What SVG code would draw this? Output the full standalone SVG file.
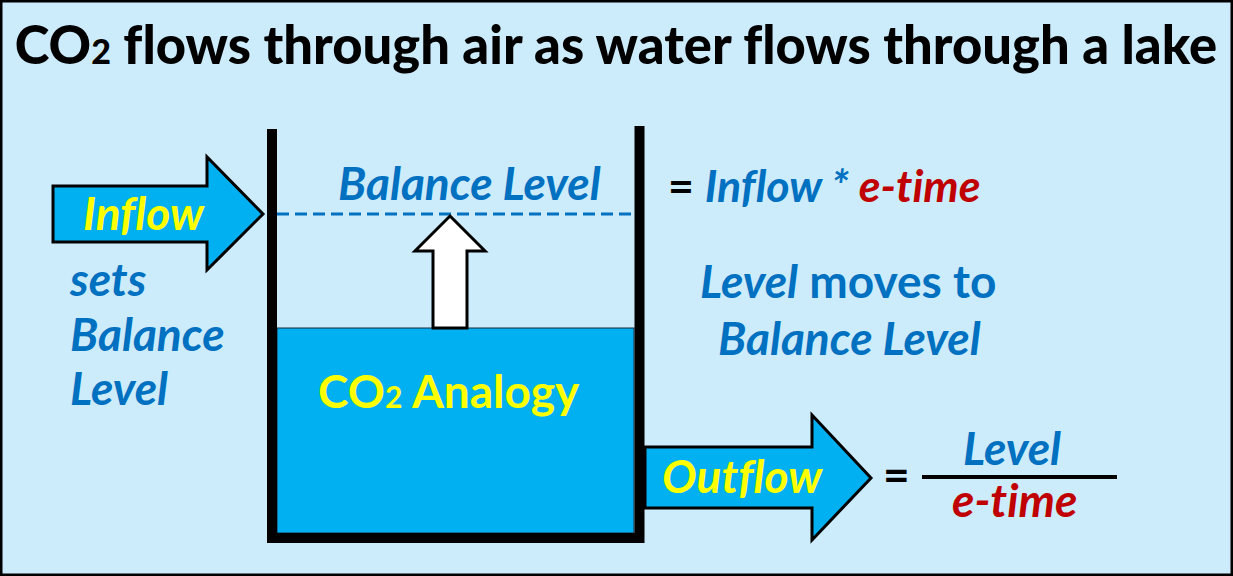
<svg xmlns="http://www.w3.org/2000/svg" width="1233" height="576" viewBox="0 0 1233 576">
<style>
text{font-family:Lato,"Liberation Sans",sans-serif;font-variant-ligatures:none;}
.t{font-size:52.5px;font-weight:900;fill:#000;}
.lbl{font-size:46px;font-weight:700;}
.it{font-style:italic;}
.blue{fill:#0070C0;}
.red{fill:#C00000;}
.yel{fill:#FFFF00;}
.blk{fill:#000;}
.flow{fill:#00B0F0;stroke:#000;stroke-width:3;stroke-linejoin:miter;}
</style>
<rect x="1" y="1" width="1231" height="574" fill="#CCECFC" stroke="#000" stroke-width="3"/>
<g id="title">
<text class="t" x="616" y="64" text-anchor="middle">CO<tspan font-size="34">2</tspan> flows through air as water flows through a lake</text>
</g>
<g id="tank">
<rect x="277" y="328" width="357" height="205" fill="#00B0F0" stroke="#1a2a40" stroke-width="1"/>
<path d="M272,129 V538 H639.5 V126" fill="none" stroke="#000" stroke-width="10" stroke-linejoin="miter"/>
<text class="lbl yel" x="318" y="408">CO<tspan font-size="30">2</tspan> Analogy</text>
</g>
<g id="balance-level">
<text class="lbl it blue" x="338" y="200">Balance Level</text>
</g>
<g id="connectors">
<line x1="277" y1="214" x2="634" y2="214" stroke="#0070C0" stroke-width="3" stroke-dasharray="12,6"/>
<polygon points="450,216 485,251 467,251 467,328 433,328 433,251 415,251" fill="#fff" stroke="#000" stroke-width="3"/>
</g>
<g id="inflow">
<polygon class="flow" points="53,186 207,186 207,157 263,214 207,270 207,242 53,242"/>
<text class="lbl it yel" x="83" y="230">Inflow</text>
</g>
<g id="sets-text">
<text class="lbl it blue" x="70" y="296">sets</text>
<text class="lbl it blue" x="70" y="351">Balance</text>
<text class="lbl it blue" x="70" y="405">Level</text>
</g>
<g id="balance-formula">
<text class="lbl" x="668" y="202" style="font-size:44.7px"><tspan class="blk">= </tspan><tspan class="it blue">Inflow * </tspan><tspan class="it red">e-time</tspan></text>
</g>
<g id="moves-text">
<text class="lbl blue" x="700" y="298"><tspan class="it">Level</tspan> moves to</text>
<text class="lbl it blue" x="718" y="355">Balance Level</text>
</g>
<g id="outflow">
<polygon class="flow" points="645,447 812,447 812,415 871,478 812,540 812,508 645,508"/>
<text class="lbl it yel" x="662" y="493">Outflow</text>
</g>
<g id="outflow-formula">
<text class="lbl blk" x="883" y="491">=</text>
<line x1="922" y1="477" x2="1117" y2="477" stroke="#000" stroke-width="4"/>
<text class="lbl it blue" x="963" y="465">Level</text>
<text class="lbl it red" x="952" y="517">e-time</text>
</g>
</svg>
